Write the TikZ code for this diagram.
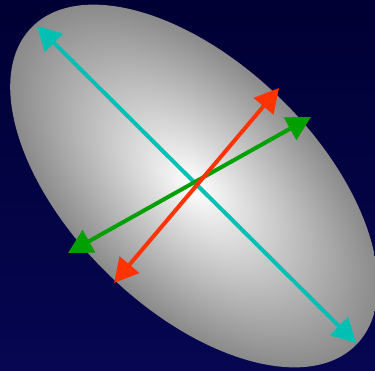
\documentclass[tikz,border=0pt]{standalone}
\usetikzlibrary{arrows.meta}
\definecolor{bgtop}{RGB}{0,0,52}
\definecolor{bgbot}{RGB}{6,6,82}
\definecolor{ellout}{RGB}{138,138,138}
\definecolor{axcyan}{RGB}{0,192,180}
\definecolor{axred}{RGB}{255,51,0}
\definecolor{axgreen}{RGB}{0,160,0}
\tikzset{
  axisarrow/.style={line width=4pt,
    {Triangle[length=24pt,width=25pt]}-{Triangle[length=24pt,width=25pt]}}
}
\begin{document}
\begin{tikzpicture}[x=1pt,y=1pt]
\shade[top color=bgtop,bottom color=bgbot] (0,0) rectangle (375,370);
\useasboundingbox (0,0) rectangle (375,370);
\begin{scope}[transform canvas={shift={(194pt,184pt)},rotate=-44.3}]
  \shade[inner color=white,outer color=ellout] (0,0) ellipse [x radius=227pt,y radius=123pt];
\end{scope}
\coordinate (c1) at (37,344);
\coordinate (c2) at (356,27);
\coordinate (g1) at (311,253);
\coordinate (g2) at (68,117);
\coordinate (r1) at (279,282);
\coordinate (r2) at (114,87);
\draw[axisarrow,axcyan] (c1) -- (c2);
\draw[axisarrow,axgreen] (g1) -- (g2);
\draw[axisarrow,axred] (r1) -- (r2);
\end{tikzpicture}
\end{document}
